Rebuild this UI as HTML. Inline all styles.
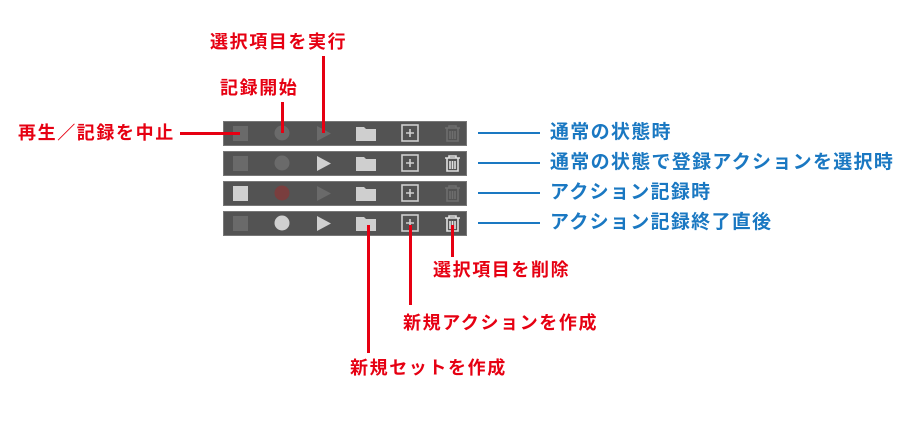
<!DOCTYPE html>
<html><head><meta charset="utf-8"><style>
body{margin:0;width:900px;height:434px;background:#fff;position:relative;overflow:hidden;font-family:"Liberation Sans","Noto Sans CJK JP",sans-serif;}
.t{position:absolute;font-size:18px;font-weight:bold;line-height:20px;white-space:nowrap;letter-spacing:1.6px}
.r{color:#e60012}.b{color:#1a78c2;font-size:19px;letter-spacing:1.3px}
.l{position:absolute;background:#e60012}
.bl{position:absolute;background:#1a78c2;height:2px;left:478px;width:62px}
.bar{position:absolute;left:223px;width:244px;height:25px;background:#535353;border:1px solid #777;box-sizing:border-box}
</style></head><body>
<div class="bar" style="top:121px"></div>
<div class="bar" style="top:151px"></div>
<div class="bar" style="top:181px"></div>
<div class="bar" style="top:211px"></div>
<svg width="900" height="434" style="position:absolute;left:0;top:0">
<rect x="233" y="126" width="15" height="15" fill="#6a6a6a"/>
<circle cx="282" cy="133" r="7.5" fill="#6a6a6a"/>
<polygon points="317,126 317,141 331,133.5" fill="#6a6a6a"/>
<path d="M356,127h8l2,2h10v12h-20z" fill="#cfcfcf"/>
<rect x="402" y="125" width="16" height="16" fill="none" stroke="#cfcfcf" stroke-width="1.6"/>
<path d="M410,129v8M406,133h8" stroke="#cfcfcf" stroke-width="1.6"/>
<g stroke="#6e6e6e" stroke-width="1.6" fill="none"><path d="M445,128h15M449,128v-2h7v2M447,128v13h11v-13M450,131v8M452.5,131v8M455,131v8"/></g>
<rect x="233" y="156" width="15" height="15" fill="#6a6a6a"/>
<circle cx="282" cy="163" r="7.5" fill="#6a6a6a"/>
<polygon points="317,156 317,171 331,163.5" fill="#d0d0d0"/>
<path d="M356,157h8l2,2h10v12h-20z" fill="#cfcfcf"/>
<rect x="402" y="155" width="16" height="16" fill="none" stroke="#cfcfcf" stroke-width="1.6"/>
<path d="M410,159v8M406,163h8" stroke="#cfcfcf" stroke-width="1.6"/>
<g stroke="#e0e0e0" stroke-width="1.6" fill="none"><path d="M445,158h15M449,158v-2h7v2M447,158v13h11v-13M450,161v8M452.5,161v8M455,161v8"/></g>
<rect x="233" y="186" width="15" height="15" fill="#d0d0d0"/>
<circle cx="282" cy="193" r="7.5" fill="#7a3e3e"/>
<polygon points="317,186 317,201 331,193.5" fill="#6a6a6a"/>
<path d="M356,187h8l2,2h10v12h-20z" fill="#cfcfcf"/>
<rect x="402" y="185" width="16" height="16" fill="none" stroke="#cfcfcf" stroke-width="1.6"/>
<path d="M410,189v8M406,193h8" stroke="#cfcfcf" stroke-width="1.6"/>
<g stroke="#6e6e6e" stroke-width="1.6" fill="none"><path d="M445,188h15M449,188v-2h7v2M447,188v13h11v-13M450,191v8M452.5,191v8M455,191v8"/></g>
<rect x="233" y="216" width="15" height="15" fill="#6a6a6a"/>
<circle cx="282" cy="223" r="7.5" fill="#d0d0d0"/>
<polygon points="317,216 317,231 331,223.5" fill="#d0d0d0"/>
<path d="M356,217h8l2,2h10v12h-20z" fill="#cfcfcf"/>
<rect x="402" y="215" width="16" height="16" fill="none" stroke="#cfcfcf" stroke-width="1.6"/>
<path d="M410,219v8M406,223h8" stroke="#cfcfcf" stroke-width="1.6"/>
<g stroke="#e0e0e0" stroke-width="1.6" fill="none"><path d="M445,218h15M449,218v-2h7v2M447,218v13h11v-13M450,221v8M452.5,221v8M455,221v8"/></g>
</svg>
<div class="l" style="left:180px;top:132px;width:60px;height:3px"></div>
<div class="l" style="left:281px;top:102px;width:3px;height:31px"></div>
<div class="l" style="left:322px;top:56px;width:3px;height:77px"></div>
<div class="l" style="left:367px;top:225px;width:3px;height:128px"></div>
<div class="l" style="left:409px;top:225px;width:3px;height:80px"></div>
<div class="l" style="left:451px;top:225px;width:3px;height:32px"></div>
<div class="t r" style="left:18px;top:123px">再生／記録を中止</div>
<div class="t r" style="left:220px;top:78px">記録開始</div>
<div class="t r" style="left:210px;top:32px">選択項目を実行</div>
<div class="t r" style="left:433px;top:260px">選択項目を削除</div>
<div class="t r" style="left:403px;top:313px">新規アクションを作成</div>
<div class="t r" style="left:350px;top:358px">新規セットを作成</div>
<div class="bl" style="top:132px"></div>
<div class="bl" style="top:162px"></div>
<div class="bl" style="top:192px"></div>
<div class="bl" style="top:222px"></div>
<div class="t b" style="left:550px;top:123px">通常の状態時</div>
<div class="t b" style="left:550px;top:153px">通常の状態で登録アクションを選択時</div>
<div class="t b" style="left:550px;top:183px">アクション記録時</div>
<div class="t b" style="left:550px;top:213px">アクション記録終了直後</div>
</body></html>
